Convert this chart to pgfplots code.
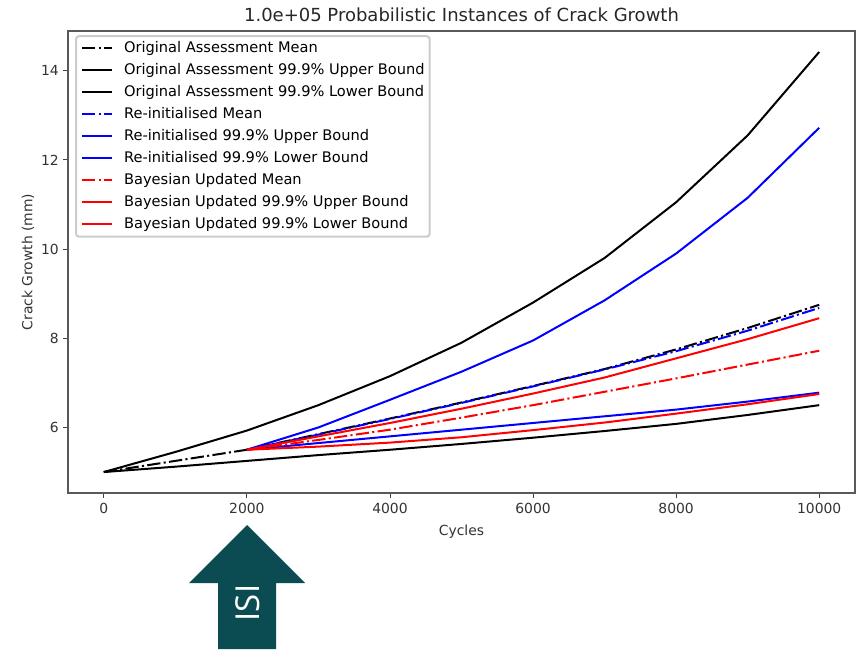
\documentclass[border=0pt]{standalone}
\usepackage{fontspec}
\setmainfont{DejaVu Sans}
\newfontfamily\arrowfont{Open Sans}
\usepackage{pgfplots}
\usepackage{pgfplotstable}
\pgfplotsset{compat=1.18}

\definecolor{isiteal}{RGB}{10,76,82}
\definecolor{mplblue}{RGB}{0,0,255}
\definecolor{mplred}{RGB}{255,0,0}

% Crack growth (mm) against cycles
\pgfplotstableread{
x     mean  upper  lower
0     5.00  5.00   5.00
1000  5.25  5.45   5.12
2000  5.50  5.93   5.25
3000  5.85  6.50   5.38
4000  6.20  7.15   5.50
5000  6.56  7.90   5.63
6000  6.93  8.80   5.77
7000  7.31  9.80   5.92
8000  7.75  11.05  6.08
9000  8.23  12.55  6.28
10000 8.75  14.42  6.50
}\original

\pgfplotstableread{
x     mean  upper  lower
2000  5.50  5.50   5.50
3000  5.84  6.00   5.65
4000  6.19  6.62   5.80
5000  6.55  7.25   5.95
6000  6.92  7.95   6.10
7000  7.30  8.85   6.25
8000  7.71  9.90   6.40
9000  8.17  11.15  6.58
10000 8.68  12.72  6.78
}\reinit

\pgfplotstableread{
x     mean  upper  lower
2000  5.50  5.50   5.50
3000  5.72  5.80   5.57
4000  5.95  6.10   5.66
5000  6.22  6.42   5.78
6000  6.50  6.76   5.94
7000  6.80  7.12   6.11
8000  7.10  7.55   6.31
9000  7.41  7.98   6.52
10000 7.72  8.45   6.75
}\bayes

\tikzset{mpldashdot/.style={dash pattern=on 13.3pt off 3.3pt on 2.1pt off 3.3pt}}

\begin{document}
\begin{tikzpicture}
\path[use as bounding box] (0pt,0pt) rectangle (860pt,649pt);
\begin{axis}[
  at={(68pt,156pt)}, anchor=south west,
  scale only axis, width=787pt, height=462pt,
  xmin=-500, xmax=10500, ymin=4.53, ymax=14.89,
  xtick={0,2000,4000,6000,8000,10000},
  ytick={6,8,10,12,14},
  scaled x ticks=false,
  /pgf/number format/1000 sep={},
  /pgf/number format/assume math mode=true,
  tick align=outside, tick pos=left,
  major tick length=4.9pt,
  every tick/.style={black!75, line width=0.9pt},
  axis line style={black!65, line width=1.1pt},
  ticklabel style={font=\fontsize{13.9}{16}\selectfont, text=black!80},
  xticklabel style={yshift=-1pt},
  title={1.0e+05 Probabilistic Instances of Crack Growth},
  title style={font=\fontsize{18}{21}\selectfont, text=black!85,
    at={(axis description cs:0.5,1)}, anchor=center, yshift=10pt},
  xlabel={Cycles},
  xlabel style={font=\fontsize{13.9}{16}\selectfont, text=black!80,
    at={(axis description cs:0.5,-0.084)}, anchor=center},
  ylabel={Crack Growth (mm)},
  ylabel style={font=\fontsize{13.9}{16}\selectfont, text=black!80,
    at={(axis description cs:-0.0508,0.5)}, anchor=center},
  legend cell align=left,
  legend image code/.code={\draw[#1] (0pt,0pt) -- (30pt,0pt);},
  legend style={
    at={(axis description cs:0.009,0.991)}, anchor=north west,
    draw=black!20, rounded corners=3pt, fill=white, fill opacity=0.8,
    text opacity=1, font=\fontsize{14.6}{17}\selectfont,
    inner xsep=5pt, inner ysep=5pt, row sep=7.5pt,
    nodes={inner sep=0pt, text height=11pt, text depth=3.5pt},
    /tikz/every odd column/.style={column sep=11pt},
  },
  line width=2pt,
]
\addplot[black, mpldashdot] table[x=x, y=mean] {\original};
\addlegendentry{Original Assessment Mean}
\addplot[black] table[x=x, y=upper] {\original};
\addlegendentry{Original Assessment 99.9\% Upper Bound}
\addplot[black] table[x=x, y=lower] {\original};
\addlegendentry{Original Assessment 99.9\% Lower Bound}
\addplot[mplblue, mpldashdot] table[x=x, y=mean] {\reinit};
\addlegendentry{Re-initialised Mean}
\addplot[mplblue] table[x=x, y=upper] {\reinit};
\addlegendentry{Re-initialised 99.9\% Upper Bound}
\addplot[mplblue] table[x=x, y=lower] {\reinit};
\addlegendentry{Re-initialised 99.9\% Lower Bound}
\addplot[mplred, mpldashdot] table[x=x, y=mean] {\bayes};
\addlegendentry{Bayesian Updated Mean}
\addplot[mplred] table[x=x, y=upper] {\bayes};
\addlegendentry{Bayesian Updated 99.9\% Upper Bound}
\addplot[mplred] table[x=x, y=lower] {\bayes};
\addlegendentry{Bayesian Updated 99.9\% Lower Bound}
\end{axis}

% ISI marker arrow below the 2000-cycle tick
\fill[isiteal] (247pt,124pt) -- (305pt,66pt) -- (276pt,66pt) -- (276pt,0pt)
  -- (218pt,0pt) -- (218pt,66pt) -- (189pt,66pt) -- cycle;
\node[text=white, rotate=90, font=\arrowfont\fontsize{33}{36}\selectfont]
  at (247.5pt,46pt) {ISI};
\end{tikzpicture}
\end{document}
